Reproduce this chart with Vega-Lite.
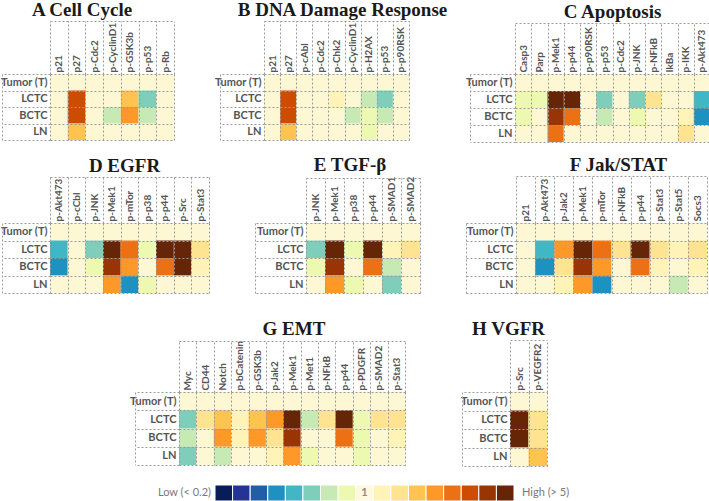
{
  "$schema": "https://vega.github.io/schema/vega-lite/v6.json",
  "padding": 0,
  "background": "white",
  "datasets": {
    "A": [
      {"sample":"Tumor (T)","protein":"p21","fold":1},{"sample":"Tumor (T)","protein":"p27","fold":1},{"sample":"Tumor (T)","protein":"p-Cdc2","fold":1},{"sample":"Tumor (T)","protein":"p-CyclinD1","fold":1},{"sample":"Tumor (T)","protein":"p-GSK3b","fold":1},{"sample":"Tumor (T)","protein":"p-p53","fold":1},{"sample":"Tumor (T)","protein":"p-Rb","fold":1},
      {"sample":"LCTC","protein":"p21","fold":1},{"sample":"LCTC","protein":"p27","fold":3.1},{"sample":"LCTC","protein":"p-Cdc2","fold":1},{"sample":"LCTC","protein":"p-CyclinD1","fold":1},{"sample":"LCTC","protein":"p-GSK3b","fold":1.75},{"sample":"LCTC","protein":"p-p53","fold":0.57},{"sample":"LCTC","protein":"p-Rb","fold":1},
      {"sample":"BCTC","protein":"p21","fold":1},{"sample":"BCTC","protein":"p27","fold":3.1},{"sample":"BCTC","protein":"p-Cdc2","fold":1},{"sample":"BCTC","protein":"p-CyclinD1","fold":0.69},{"sample":"BCTC","protein":"p-GSK3b","fold":2.1},{"sample":"BCTC","protein":"p-p53","fold":0.69},{"sample":"BCTC","protein":"p-Rb","fold":1},
      {"sample":"LN","protein":"p21","fold":1},{"sample":"LN","protein":"p27","fold":1.75},{"sample":"LN","protein":"p-Cdc2","fold":1},{"sample":"LN","protein":"p-CyclinD1","fold":1},{"sample":"LN","protein":"p-GSK3b","fold":1},{"sample":"LN","protein":"p-p53","fold":1},{"sample":"LN","protein":"p-Rb","fold":1}
    ],
    "B": [
      {"sample":"Tumor (T)","protein":"p21","fold":1},{"sample":"Tumor (T)","protein":"p27","fold":1},{"sample":"Tumor (T)","protein":"p-cAbl","fold":1},{"sample":"Tumor (T)","protein":"p-Cdc2","fold":1},{"sample":"Tumor (T)","protein":"p-Chk2","fold":1},{"sample":"Tumor (T)","protein":"p-CyclinD1","fold":1},{"sample":"Tumor (T)","protein":"p-H2AX","fold":1},{"sample":"Tumor (T)","protein":"p-p53","fold":1},{"sample":"Tumor (T)","protein":"p-p90RSK","fold":1},
      {"sample":"LCTC","protein":"p21","fold":1},{"sample":"LCTC","protein":"p27","fold":3.1},{"sample":"LCTC","protein":"p-cAbl","fold":1},{"sample":"LCTC","protein":"p-Cdc2","fold":1},{"sample":"LCTC","protein":"p-Chk2","fold":1.2},{"sample":"LCTC","protein":"p-CyclinD1","fold":1},{"sample":"LCTC","protein":"p-H2AX","fold":0.69},{"sample":"LCTC","protein":"p-p53","fold":0.57},{"sample":"LCTC","protein":"p-p90RSK","fold":1},
      {"sample":"BCTC","protein":"p21","fold":1},{"sample":"BCTC","protein":"p27","fold":3.1},{"sample":"BCTC","protein":"p-cAbl","fold":1},{"sample":"BCTC","protein":"p-Cdc2","fold":1},{"sample":"BCTC","protein":"p-Chk2","fold":1},{"sample":"BCTC","protein":"p-CyclinD1","fold":0.69},{"sample":"BCTC","protein":"p-H2AX","fold":0.83},{"sample":"BCTC","protein":"p-p53","fold":0.69},{"sample":"BCTC","protein":"p-p90RSK","fold":1},
      {"sample":"LN","protein":"p21","fold":1},{"sample":"LN","protein":"p27","fold":1.75},{"sample":"LN","protein":"p-cAbl","fold":1},{"sample":"LN","protein":"p-Cdc2","fold":1},{"sample":"LN","protein":"p-Chk2","fold":1},{"sample":"LN","protein":"p-CyclinD1","fold":1},{"sample":"LN","protein":"p-H2AX","fold":0.83},{"sample":"LN","protein":"p-p53","fold":1},{"sample":"LN","protein":"p-p90RSK","fold":1}
    ],
    "C": [
      {"sample":"Tumor (T)","protein":"Casp3","fold":1},{"sample":"Tumor (T)","protein":"Parp","fold":1},{"sample":"Tumor (T)","protein":"p-Mek1","fold":1},{"sample":"Tumor (T)","protein":"p-p44","fold":1},{"sample":"Tumor (T)","protein":"p-p90RSK","fold":1},{"sample":"Tumor (T)","protein":"p-p53","fold":1},{"sample":"Tumor (T)","protein":"p-Cdc2","fold":1},{"sample":"Tumor (T)","protein":"p-JNK","fold":1},{"sample":"Tumor (T)","protein":"p-NFkB","fold":1},{"sample":"Tumor (T)","protein":"IkBa","fold":1},{"sample":"Tumor (T)","protein":"p-IKK","fold":1},{"sample":"Tumor (T)","protein":"p-Akt473","fold":1},
      {"sample":"LCTC","protein":"Casp3","fold":0.83},{"sample":"LCTC","protein":"Parp","fold":0.83},{"sample":"LCTC","protein":"p-Mek1","fold":6},{"sample":"LCTC","protein":"p-p44","fold":6},{"sample":"LCTC","protein":"p-p90RSK","fold":1},{"sample":"LCTC","protein":"p-p53","fold":0.57},{"sample":"LCTC","protein":"p-Cdc2","fold":1},{"sample":"LCTC","protein":"p-JNK","fold":0.57},{"sample":"LCTC","protein":"p-NFkB","fold":1.45},{"sample":"LCTC","protein":"IkBa","fold":1},{"sample":"LCTC","protein":"p-IKK","fold":1},{"sample":"LCTC","protein":"p-Akt473","fold":0.47},
      {"sample":"BCTC","protein":"Casp3","fold":0.83},{"sample":"BCTC","protein":"Parp","fold":1},{"sample":"BCTC","protein":"p-Mek1","fold":3.8},{"sample":"BCTC","protein":"p-p44","fold":2.6},{"sample":"BCTC","protein":"p-p90RSK","fold":1},{"sample":"BCTC","protein":"p-p53","fold":0.69},{"sample":"BCTC","protein":"p-Cdc2","fold":1},{"sample":"BCTC","protein":"p-JNK","fold":0.83},{"sample":"BCTC","protein":"p-NFkB","fold":1},{"sample":"BCTC","protein":"IkBa","fold":1},{"sample":"BCTC","protein":"p-IKK","fold":1.2},{"sample":"BCTC","protein":"p-Akt473","fold":0.39},
      {"sample":"LN","protein":"Casp3","fold":1},{"sample":"LN","protein":"Parp","fold":1},{"sample":"LN","protein":"p-Mek1","fold":2.6},{"sample":"LN","protein":"p-p44","fold":1},{"sample":"LN","protein":"p-p90RSK","fold":1},{"sample":"LN","protein":"p-p53","fold":1},{"sample":"LN","protein":"p-Cdc2","fold":1},{"sample":"LN","protein":"p-JNK","fold":1},{"sample":"LN","protein":"p-NFkB","fold":1},{"sample":"LN","protein":"IkBa","fold":1},{"sample":"LN","protein":"p-IKK","fold":1.45},{"sample":"LN","protein":"p-Akt473","fold":1}
    ],
    "D": [
      {"sample":"Tumor (T)","protein":"p-Akt473","fold":1},{"sample":"Tumor (T)","protein":"p-cCbl","fold":1},{"sample":"Tumor (T)","protein":"p-JNK","fold":1},{"sample":"Tumor (T)","protein":"p-Mek1","fold":1},{"sample":"Tumor (T)","protein":"p-mTor","fold":1},{"sample":"Tumor (T)","protein":"p-p38","fold":1},{"sample":"Tumor (T)","protein":"p-p44","fold":1},{"sample":"Tumor (T)","protein":"p-Src","fold":1},{"sample":"Tumor (T)","protein":"p-Stat3","fold":1},
      {"sample":"LCTC","protein":"p-Akt473","fold":0.47},{"sample":"LCTC","protein":"p-cCbl","fold":1},{"sample":"LCTC","protein":"p-JNK","fold":0.57},{"sample":"LCTC","protein":"p-Mek1","fold":6},{"sample":"LCTC","protein":"p-mTor","fold":2.6},{"sample":"LCTC","protein":"p-p38","fold":0.83},{"sample":"LCTC","protein":"p-p44","fold":6},{"sample":"LCTC","protein":"p-Src","fold":6},{"sample":"LCTC","protein":"p-Stat3","fold":1.45},
      {"sample":"BCTC","protein":"p-Akt473","fold":0.39},{"sample":"BCTC","protein":"p-cCbl","fold":1},{"sample":"BCTC","protein":"p-JNK","fold":0.83},{"sample":"BCTC","protein":"p-Mek1","fold":3.8},{"sample":"BCTC","protein":"p-mTor","fold":2.1},{"sample":"BCTC","protein":"p-p38","fold":1},{"sample":"BCTC","protein":"p-p44","fold":2.6},{"sample":"BCTC","protein":"p-Src","fold":6},{"sample":"BCTC","protein":"p-Stat3","fold":1.2},
      {"sample":"LN","protein":"p-Akt473","fold":1},{"sample":"LN","protein":"p-cCbl","fold":1},{"sample":"LN","protein":"p-JNK","fold":1},{"sample":"LN","protein":"p-Mek1","fold":2.1},{"sample":"LN","protein":"p-mTor","fold":0.39},{"sample":"LN","protein":"p-p38","fold":0.83},{"sample":"LN","protein":"p-p44","fold":1},{"sample":"LN","protein":"p-Src","fold":1},{"sample":"LN","protein":"p-Stat3","fold":1}
    ],
    "E": [
      {"sample":"Tumor (T)","protein":"p-JNK","fold":1},{"sample":"Tumor (T)","protein":"p-Mek1","fold":1},{"sample":"Tumor (T)","protein":"p-p38","fold":1},{"sample":"Tumor (T)","protein":"p-p44","fold":1},{"sample":"Tumor (T)","protein":"p-SMAD1","fold":1},{"sample":"Tumor (T)","protein":"p-SMAD2","fold":1},
      {"sample":"LCTC","protein":"p-JNK","fold":0.57},{"sample":"LCTC","protein":"p-Mek1","fold":6},{"sample":"LCTC","protein":"p-p38","fold":0.83},{"sample":"LCTC","protein":"p-p44","fold":6},{"sample":"LCTC","protein":"p-SMAD1","fold":1.2},{"sample":"LCTC","protein":"p-SMAD2","fold":1.45},
      {"sample":"BCTC","protein":"p-JNK","fold":0.83},{"sample":"BCTC","protein":"p-Mek1","fold":3.8},{"sample":"BCTC","protein":"p-p38","fold":1},{"sample":"BCTC","protein":"p-p44","fold":2.6},{"sample":"BCTC","protein":"p-SMAD1","fold":0.69},{"sample":"BCTC","protein":"p-SMAD2","fold":1},
      {"sample":"LN","protein":"p-JNK","fold":1},{"sample":"LN","protein":"p-Mek1","fold":2.1},{"sample":"LN","protein":"p-p38","fold":0.83},{"sample":"LN","protein":"p-p44","fold":1},{"sample":"LN","protein":"p-SMAD1","fold":0.57},{"sample":"LN","protein":"p-SMAD2","fold":1}
    ],
    "F": [
      {"sample":"Tumor (T)","protein":"p21","fold":1},{"sample":"Tumor (T)","protein":"p-Akt473","fold":1},{"sample":"Tumor (T)","protein":"p-Jak2","fold":1},{"sample":"Tumor (T)","protein":"p-Mek1","fold":1},{"sample":"Tumor (T)","protein":"p-mTor","fold":1},{"sample":"Tumor (T)","protein":"p-NFkB","fold":1},{"sample":"Tumor (T)","protein":"p-p44","fold":1},{"sample":"Tumor (T)","protein":"p-Stat3","fold":1},{"sample":"Tumor (T)","protein":"p-Stat5","fold":1},{"sample":"Tumor (T)","protein":"Socs3","fold":1},
      {"sample":"LCTC","protein":"p21","fold":1},{"sample":"LCTC","protein":"p-Akt473","fold":0.47},{"sample":"LCTC","protein":"p-Jak2","fold":2.1},{"sample":"LCTC","protein":"p-Mek1","fold":6},{"sample":"LCTC","protein":"p-mTor","fold":2.6},{"sample":"LCTC","protein":"p-NFkB","fold":1.45},{"sample":"LCTC","protein":"p-p44","fold":6},{"sample":"LCTC","protein":"p-Stat3","fold":1.45},{"sample":"LCTC","protein":"p-Stat5","fold":1.2},{"sample":"LCTC","protein":"Socs3","fold":1.45},
      {"sample":"BCTC","protein":"p21","fold":1},{"sample":"BCTC","protein":"p-Akt473","fold":0.39},{"sample":"BCTC","protein":"p-Jak2","fold":1.45},{"sample":"BCTC","protein":"p-Mek1","fold":3.8},{"sample":"BCTC","protein":"p-mTor","fold":2.1},{"sample":"BCTC","protein":"p-NFkB","fold":1},{"sample":"BCTC","protein":"p-p44","fold":2.6},{"sample":"BCTC","protein":"p-Stat3","fold":1.2},{"sample":"BCTC","protein":"p-Stat5","fold":1},{"sample":"BCTC","protein":"Socs3","fold":1.2},
      {"sample":"LN","protein":"p21","fold":1},{"sample":"LN","protein":"p-Akt473","fold":1},{"sample":"LN","protein":"p-Jak2","fold":1.2},{"sample":"LN","protein":"p-Mek1","fold":2.1},{"sample":"LN","protein":"p-mTor","fold":0.39},{"sample":"LN","protein":"p-NFkB","fold":1},{"sample":"LN","protein":"p-p44","fold":1},{"sample":"LN","protein":"p-Stat3","fold":1},{"sample":"LN","protein":"p-Stat5","fold":0.69},{"sample":"LN","protein":"Socs3","fold":1}
    ],
    "G": [
      {"sample":"Tumor (T)","protein":"Myc","fold":1},{"sample":"Tumor (T)","protein":"CD44","fold":1},{"sample":"Tumor (T)","protein":"Notch","fold":1},{"sample":"Tumor (T)","protein":"p-bCatenin","fold":1},{"sample":"Tumor (T)","protein":"p-GSK3b","fold":1},{"sample":"Tumor (T)","protein":"p-Jak2","fold":1},{"sample":"Tumor (T)","protein":"p-Mek1","fold":1},{"sample":"Tumor (T)","protein":"p-Met1","fold":1},{"sample":"Tumor (T)","protein":"p-NFkB","fold":1},{"sample":"Tumor (T)","protein":"p-p44","fold":1},{"sample":"Tumor (T)","protein":"p-PDGFR","fold":1},{"sample":"Tumor (T)","protein":"p-SMAD2","fold":1},{"sample":"Tumor (T)","protein":"p-Stat3","fold":1},
      {"sample":"LCTC","protein":"Myc","fold":0.57},{"sample":"LCTC","protein":"CD44","fold":1.45},{"sample":"LCTC","protein":"Notch","fold":1.75},{"sample":"LCTC","protein":"p-bCatenin","fold":1.2},{"sample":"LCTC","protein":"p-GSK3b","fold":1.75},{"sample":"LCTC","protein":"p-Jak2","fold":2.1},{"sample":"LCTC","protein":"p-Mek1","fold":6},{"sample":"LCTC","protein":"p-Met1","fold":0.69},{"sample":"LCTC","protein":"p-NFkB","fold":1.45},{"sample":"LCTC","protein":"p-p44","fold":6},{"sample":"LCTC","protein":"p-PDGFR","fold":0.83},{"sample":"LCTC","protein":"p-SMAD2","fold":1.45},{"sample":"LCTC","protein":"p-Stat3","fold":1.45},
      {"sample":"BCTC","protein":"Myc","fold":0.69},{"sample":"BCTC","protein":"CD44","fold":1},{"sample":"BCTC","protein":"Notch","fold":2.1},{"sample":"BCTC","protein":"p-bCatenin","fold":1.2},{"sample":"BCTC","protein":"p-GSK3b","fold":2.1},{"sample":"BCTC","protein":"p-Jak2","fold":1.45},{"sample":"BCTC","protein":"p-Mek1","fold":3.8},{"sample":"BCTC","protein":"p-Met1","fold":1},{"sample":"BCTC","protein":"p-NFkB","fold":1},{"sample":"BCTC","protein":"p-p44","fold":2.6},{"sample":"BCTC","protein":"p-PDGFR","fold":0.83},{"sample":"BCTC","protein":"p-SMAD2","fold":1},{"sample":"BCTC","protein":"p-Stat3","fold":1.2},
      {"sample":"LN","protein":"Myc","fold":0.57},{"sample":"LN","protein":"CD44","fold":1},{"sample":"LN","protein":"Notch","fold":0.69},{"sample":"LN","protein":"p-bCatenin","fold":1},{"sample":"LN","protein":"p-GSK3b","fold":1},{"sample":"LN","protein":"p-Jak2","fold":1.2},{"sample":"LN","protein":"p-Mek1","fold":2.1},{"sample":"LN","protein":"p-Met1","fold":0.83},{"sample":"LN","protein":"p-NFkB","fold":1},{"sample":"LN","protein":"p-p44","fold":1},{"sample":"LN","protein":"p-PDGFR","fold":0.83},{"sample":"LN","protein":"p-SMAD2","fold":1},{"sample":"LN","protein":"p-Stat3","fold":1}
    ],
    "H": [
      {"sample":"Tumor (T)","protein":"p-Src","fold":1},{"sample":"Tumor (T)","protein":"p-VEGFR2","fold":1},
      {"sample":"LCTC","protein":"p-Src","fold":6},{"sample":"LCTC","protein":"p-VEGFR2","fold":1.45},
      {"sample":"BCTC","protein":"p-Src","fold":6},{"sample":"BCTC","protein":"p-VEGFR2","fold":1.45},
      {"sample":"LN","protein":"p-Src","fold":1},{"sample":"LN","protein":"p-VEGFR2","fold":1.75}
    ],
    "L": [
      {"bin":"k01","fold":0.15,"mid":"","low":"Low (< 0.2)","high":""},
      {"bin":"k02","fold":0.26,"mid":"","low":"","high":""},
      {"bin":"k03","fold":0.32,"mid":"","low":"","high":""},
      {"bin":"k04","fold":0.39,"mid":"","low":"","high":""},
      {"bin":"k05","fold":0.47,"mid":"","low":"","high":""},
      {"bin":"k06","fold":0.57,"mid":"","low":"","high":""},
      {"bin":"k07","fold":0.69,"mid":"","low":"","high":""},
      {"bin":"k08","fold":0.83,"mid":"","low":"","high":""},
      {"bin":"k09","fold":1,"mid":"1","low":"","high":""},
      {"bin":"k10","fold":1.2,"mid":"","low":"","high":""},
      {"bin":"k11","fold":1.45,"mid":"","low":"","high":""},
      {"bin":"k12","fold":1.75,"mid":"","low":"","high":""},
      {"bin":"k13","fold":2.1,"mid":"","low":"","high":""},
      {"bin":"k14","fold":2.6,"mid":"","low":"","high":""},
      {"bin":"k15","fold":3.1,"mid":"","low":"","high":""},
      {"bin":"k16","fold":3.8,"mid":"","low":"","high":""},
      {"bin":"k17","fold":6,"mid":"","low":"","high":"High (> 5)"}
    ]
  },
  "config": {
    "view": {"stroke": null},
    "title": {"font": "Liberation Serif", "fontSize": 19, "fontWeight": "bold", "color": "#1a1a1a", "offset": 1, "anchor": "middle", "frame": "group"},
    "axis": {
      "minExtent": 0,
      "tickBand": "extent",
      "tickColor": "#9a9a9a", "tickDash": [2, 2], "tickWidth": 1,
      "gridColor": "#9a9a9a", "gridDash": [2, 2], "gridOpacity": 1, "gridWidth": 1,
      "domainColor": "#9a9a9a", "domainDash": [2, 2], "domainWidth": 1,
      "labelFont": "Lato",
      "labelFontSize": 10, "labelFontWeight": "bold", "labelColor": "#555555",
      "labelOverlap": false, "labelBound": false, "labelFlush": false
    },
    "axisLeft": {"labelFontSize": 11}
  },
  "vconcat": [
    {
      "bounds": "flush", "spacing": 0,
      "hconcat": [
        {
          "width": 124, "height": 66, "data": {"name": "A"},
          "title": {"text": "A  Cell Cycle", "dx": -30},
          "resolve": {"axis": {"x": "independent", "y": "independent"}},
          "layer": [
            {"mark": {"type": "rect"},
             "encoding": {
               "x": {"field": "protein", "type": "nominal", "sort": null, "axis": {"orient": "top", "title": null, "tickSize": 53, "labelPadding": -51, "labelAngle": 270, "labelAlign": "left", "labelBaseline": "middle", "grid": true, "domain": false}},
               "y": {"field": "sample", "type": "nominal", "sort": null, "axis": {"orient": "left", "title": null, "tickSize": 48, "labelPadding": -45, "grid": true, "domain": false}},
               "color": {"field": "fold", "type": "quantitative", "legend": null, "scale": {"type": "threshold", "domain": [0.24,0.29,0.35,0.43,0.52,0.62,0.75,0.91,1.1,1.33,1.6,1.94,2.34,2.83,3.42,4.14], "range": ["#081d58","#253494","#225ea8","#1d91c0","#41b6c4","#7fcdbb","#c7e9b4","#edf8b1","#fcf2b6","#fff3b8","#fee391","#fec44f","#fe9929","#ec7014","#cc4c02","#993404","#662506"]}},
               "fillOpacity": {"condition": {"test": "datum.fold > 0.91 && datum.fold < 1.1", "value": 0.6}, "value": 1}
             }},
            {"mark": {"type": "rect", "opacity": 0},
             "encoding": {
               "x": {"field": "protein", "type": "nominal", "sort": null, "axis": {"orient": "top", "title": null, "offset": 53, "labels": false, "ticks": false, "grid": false, "domain": true}},
               "y": {"field": "sample", "type": "nominal", "sort": null, "axis": {"orient": "left", "title": null, "offset": 48, "labels": false, "ticks": false, "grid": false, "domain": true}}
             }}
          ]
        },
        {"width": 90, "height": 1, "data": {"values": []}, "mark": {"type": "point", "opacity": 0}},
        {
          "width": 145, "height": 66, "data": {"name": "B"},
          "title": {"text": "B  DNA Damage Response", "dx": 6},
          "resolve": {"axis": {"x": "independent", "y": "independent"}},
          "layer": [
            {"mark": {"type": "rect"},
             "encoding": {
               "x": {"field": "protein", "type": "nominal", "sort": null, "axis": {"orient": "top", "title": null, "tickSize": 53, "labelPadding": -51, "labelAngle": 270, "labelAlign": "left", "labelBaseline": "middle", "grid": true, "domain": false}},
               "y": {"field": "sample", "type": "nominal", "sort": null, "axis": {"orient": "left", "title": null, "tickSize": 44, "labelPadding": -41, "grid": true, "domain": false}},
               "color": {"field": "fold", "type": "quantitative", "legend": null, "scale": {"type": "threshold", "domain": [0.24,0.29,0.35,0.43,0.52,0.62,0.75,0.91,1.1,1.33,1.6,1.94,2.34,2.83,3.42,4.14], "range": ["#081d58","#253494","#225ea8","#1d91c0","#41b6c4","#7fcdbb","#c7e9b4","#edf8b1","#fcf2b6","#fff3b8","#fee391","#fec44f","#fe9929","#ec7014","#cc4c02","#993404","#662506"]}},
               "fillOpacity": {"condition": {"test": "datum.fold > 0.91 && datum.fold < 1.1", "value": 0.6}, "value": 1}
             }},
            {"mark": {"type": "rect", "opacity": 0},
             "encoding": {
               "x": {"field": "protein", "type": "nominal", "sort": null, "axis": {"orient": "top", "title": null, "offset": 53, "labels": false, "ticks": false, "grid": false, "domain": true}},
               "y": {"field": "sample", "type": "nominal", "sort": null, "axis": {"orient": "left", "title": null, "offset": 44, "labels": false, "ticks": false, "grid": false, "domain": true}}
             }}
          ]
        },
        {"width": 106, "height": 1, "data": {"values": []}, "mark": {"type": "point", "opacity": 0}},
        {
          "width": 195, "height": 68, "data": {"name": "C"},
          "title": {"text": "C  Apoptosis", "dx": 0},
          "resolve": {"axis": {"x": "independent", "y": "independent"}},
          "layer": [
            {"mark": {"type": "rect"},
             "encoding": {
               "x": {"field": "protein", "type": "nominal", "sort": null, "axis": {"orient": "top", "title": null, "tickSize": 51, "labelPadding": -49, "labelAngle": 270, "labelAlign": "left", "labelBaseline": "middle", "grid": true, "domain": false}},
               "y": {"field": "sample", "type": "nominal", "sort": null, "axis": {"orient": "left", "title": null, "tickSize": 45, "labelPadding": -42, "grid": true, "domain": false}},
               "color": {"field": "fold", "type": "quantitative", "legend": null, "scale": {"type": "threshold", "domain": [0.24,0.29,0.35,0.43,0.52,0.62,0.75,0.91,1.1,1.33,1.6,1.94,2.34,2.83,3.42,4.14], "range": ["#081d58","#253494","#225ea8","#1d91c0","#41b6c4","#7fcdbb","#c7e9b4","#edf8b1","#fcf2b6","#fff3b8","#fee391","#fec44f","#fe9929","#ec7014","#cc4c02","#993404","#662506"]}},
               "fillOpacity": {"condition": {"test": "datum.fold > 0.91 && datum.fold < 1.1", "value": 0.6}, "value": 1}
             }},
            {"mark": {"type": "rect", "opacity": 0},
             "encoding": {
               "x": {"field": "protein", "type": "nominal", "sort": null, "axis": {"orient": "top", "title": null, "offset": 51, "labels": false, "ticks": false, "grid": false, "domain": true}},
               "y": {"field": "sample", "type": "nominal", "sort": null, "axis": {"orient": "left", "title": null, "offset": 45, "labels": false, "ticks": false, "grid": false, "domain": true}}
             }}
          ]
        }
      ]
    },
    {"width": 10, "height": 149, "data": {"values": []}, "mark": {"type": "point", "opacity": 0}},
    {
      "bounds": "flush", "spacing": 0,
      "hconcat": [
        {
          "width": 159, "height": 70, "data": {"name": "D"},
          "title": {"text": "D  EGFR", "dx": -5},
          "resolve": {"axis": {"x": "independent", "y": "independent"}},
          "layer": [
            {"mark": {"type": "rect"},
             "encoding": {
               "x": {"field": "protein", "type": "nominal", "sort": null, "axis": {"orient": "top", "title": null, "tickSize": 46, "labelPadding": -44, "labelAngle": 270, "labelAlign": "left", "labelBaseline": "middle", "grid": true, "domain": false}},
               "y": {"field": "sample", "type": "nominal", "sort": null, "axis": {"orient": "left", "title": null, "tickSize": 48, "labelPadding": -45, "grid": true, "domain": false}},
               "color": {"field": "fold", "type": "quantitative", "legend": null, "scale": {"type": "threshold", "domain": [0.24,0.29,0.35,0.43,0.52,0.62,0.75,0.91,1.1,1.33,1.6,1.94,2.34,2.83,3.42,4.14], "range": ["#081d58","#253494","#225ea8","#1d91c0","#41b6c4","#7fcdbb","#c7e9b4","#edf8b1","#fcf2b6","#fff3b8","#fee391","#fec44f","#fe9929","#ec7014","#cc4c02","#993404","#662506"]}},
               "fillOpacity": {"condition": {"test": "datum.fold > 0.91 && datum.fold < 1.1", "value": 0.6}, "value": 1}
             }},
            {"mark": {"type": "rect", "opacity": 0},
             "encoding": {
               "x": {"field": "protein", "type": "nominal", "sort": null, "axis": {"orient": "top", "title": null, "offset": 46, "labels": false, "ticks": false, "grid": false, "domain": true}},
               "y": {"field": "sample", "type": "nominal", "sort": null, "axis": {"orient": "left", "title": null, "offset": 48, "labels": false, "ticks": false, "grid": false, "domain": true}}
             }}
          ]
        },
        {"width": 97, "height": 1, "data": {"values": []}, "mark": {"type": "point", "opacity": 0}},
        {
          "width": 114, "height": 70, "data": {"name": "E"},
          "title": {"text": "E  TGF-β", "dx": -13},
          "resolve": {"axis": {"x": "independent", "y": "independent"}},
          "layer": [
            {"mark": {"type": "rect"},
             "encoding": {
               "x": {"field": "protein", "type": "nominal", "sort": null, "axis": {"orient": "top", "title": null, "tickSize": 45, "labelPadding": -43, "labelAngle": 270, "labelAlign": "left", "labelBaseline": "middle", "grid": true, "domain": false}},
               "y": {"field": "sample", "type": "nominal", "sort": null, "axis": {"orient": "left", "title": null, "tickSize": 51, "labelPadding": -48, "grid": true, "domain": false}},
               "color": {"field": "fold", "type": "quantitative", "legend": null, "scale": {"type": "threshold", "domain": [0.24,0.29,0.35,0.43,0.52,0.62,0.75,0.91,1.1,1.33,1.6,1.94,2.34,2.83,3.42,4.14], "range": ["#081d58","#253494","#225ea8","#1d91c0","#41b6c4","#7fcdbb","#c7e9b4","#edf8b1","#fcf2b6","#fff3b8","#fee391","#fec44f","#fe9929","#ec7014","#cc4c02","#993404","#662506"]}},
               "fillOpacity": {"condition": {"test": "datum.fold > 0.91 && datum.fold < 1.1", "value": 0.6}, "value": 1}
             }},
            {"mark": {"type": "rect", "opacity": 0},
             "encoding": {
               "x": {"field": "protein", "type": "nominal", "sort": null, "axis": {"orient": "top", "title": null, "offset": 45, "labels": false, "ticks": false, "grid": false, "domain": true}},
               "y": {"field": "sample", "type": "nominal", "sort": null, "axis": {"orient": "left", "title": null, "offset": 51, "labels": false, "ticks": false, "grid": false, "domain": true}}
             }}
          ]
        },
        {"width": 96, "height": 1, "data": {"values": []}, "mark": {"type": "point", "opacity": 0}},
        {
          "width": 191, "height": 70, "data": {"name": "F"},
          "title": {"text": "F  Jak/STAT", "dx": 7},
          "resolve": {"axis": {"x": "independent", "y": "independent"}},
          "layer": [
            {"mark": {"type": "rect"},
             "encoding": {
               "x": {"field": "protein", "type": "nominal", "sort": null, "axis": {"orient": "top", "title": null, "tickSize": 47, "labelPadding": -45, "labelAngle": 270, "labelAlign": "left", "labelBaseline": "middle", "grid": true, "domain": false}},
               "y": {"field": "sample", "type": "nominal", "sort": null, "axis": {"orient": "left", "title": null, "tickSize": 50, "labelPadding": -47, "grid": true, "domain": false}},
               "color": {"field": "fold", "type": "quantitative", "legend": null, "scale": {"type": "threshold", "domain": [0.24,0.29,0.35,0.43,0.52,0.62,0.75,0.91,1.1,1.33,1.6,1.94,2.34,2.83,3.42,4.14], "range": ["#081d58","#253494","#225ea8","#1d91c0","#41b6c4","#7fcdbb","#c7e9b4","#edf8b1","#fcf2b6","#fff3b8","#fee391","#fec44f","#fe9929","#ec7014","#cc4c02","#993404","#662506"]}},
               "fillOpacity": {"condition": {"test": "datum.fold > 0.91 && datum.fold < 1.1", "value": 0.6}, "value": 1}
             }},
            {"mark": {"type": "rect", "opacity": 0},
             "encoding": {
               "x": {"field": "protein", "type": "nominal", "sort": null, "axis": {"orient": "top", "title": null, "offset": 47, "labels": false, "ticks": false, "grid": false, "domain": true}},
               "y": {"field": "sample", "type": "nominal", "sort": null, "axis": {"orient": "left", "title": null, "offset": 50, "labels": false, "ticks": false, "grid": false, "domain": true}}
             }}
          ]
        }
      ]
    },
    {"width": 10, "height": 169, "data": {"values": []}, "mark": {"type": "point", "opacity": 0}},
    {
      "bounds": "flush", "spacing": 0,
      "hconcat": [
        {"width": 129, "height": 1, "data": {"values": []}, "mark": {"type": "point", "opacity": 0}},
        {
          "width": 226, "height": 73, "data": {"name": "G"},
          "title": {"text": "G  EMT", "dx": 2},
          "resolve": {"axis": {"x": "independent", "y": "independent"}},
          "layer": [
            {"mark": {"type": "rect"},
             "encoding": {
               "x": {"field": "protein", "type": "nominal", "sort": null, "axis": {"orient": "top", "title": null, "tickSize": 51, "labelPadding": -49, "labelAngle": 270, "labelAlign": "left", "labelBaseline": "middle", "grid": true, "domain": false}},
               "y": {"field": "sample", "type": "nominal", "sort": null, "axis": {"orient": "left", "title": null, "tickSize": 44, "labelPadding": -41, "grid": true, "domain": false}},
               "color": {"field": "fold", "type": "quantitative", "legend": null, "scale": {"type": "threshold", "domain": [0.24,0.29,0.35,0.43,0.52,0.62,0.75,0.91,1.1,1.33,1.6,1.94,2.34,2.83,3.42,4.14], "range": ["#081d58","#253494","#225ea8","#1d91c0","#41b6c4","#7fcdbb","#c7e9b4","#edf8b1","#fcf2b6","#fff3b8","#fee391","#fec44f","#fe9929","#ec7014","#cc4c02","#993404","#662506"]}},
               "fillOpacity": {"condition": {"test": "datum.fold > 0.91 && datum.fold < 1.1", "value": 0.6}, "value": 1}
             }},
            {"mark": {"type": "rect", "opacity": 0},
             "encoding": {
               "x": {"field": "protein", "type": "nominal", "sort": null, "axis": {"orient": "top", "title": null, "offset": 51, "labels": false, "ticks": false, "grid": false, "domain": true}},
               "y": {"field": "sample", "type": "nominal", "sort": null, "axis": {"orient": "left", "title": null, "offset": 44, "labels": false, "ticks": false, "grid": false, "domain": true}}
             }}
          ]
        },
        {"width": 105, "height": 1, "data": {"values": []}, "mark": {"type": "point", "opacity": 0}},
        {
          "width": 37, "height": 74, "data": {"name": "H"},
          "title": {"text": "H  VGFR", "dx": -20},
          "resolve": {"axis": {"x": "independent", "y": "independent"}},
          "layer": [
            {"mark": {"type": "rect"},
             "encoding": {
               "x": {"field": "protein", "type": "nominal", "sort": null, "axis": {"orient": "top", "title": null, "tickSize": 52, "labelPadding": -50, "labelAngle": 270, "labelAlign": "left", "labelBaseline": "middle", "grid": true, "domain": false}},
               "y": {"field": "sample", "type": "nominal", "sort": null, "axis": {"orient": "left", "title": null, "tickSize": 48, "labelPadding": -45, "grid": true, "domain": false}},
               "color": {"field": "fold", "type": "quantitative", "legend": null, "scale": {"type": "threshold", "domain": [0.24,0.29,0.35,0.43,0.52,0.62,0.75,0.91,1.1,1.33,1.6,1.94,2.34,2.83,3.42,4.14], "range": ["#081d58","#253494","#225ea8","#1d91c0","#41b6c4","#7fcdbb","#c7e9b4","#edf8b1","#fcf2b6","#fff3b8","#fee391","#fec44f","#fe9929","#ec7014","#cc4c02","#993404","#662506"]}},
               "fillOpacity": {"condition": {"test": "datum.fold > 0.91 && datum.fold < 1.1", "value": 0.6}, "value": 1}
             }},
            {"mark": {"type": "rect", "opacity": 0},
             "encoding": {
               "x": {"field": "protein", "type": "nominal", "sort": null, "axis": {"orient": "top", "title": null, "offset": 52, "labels": false, "ticks": false, "grid": false, "domain": true}},
               "y": {"field": "sample", "type": "nominal", "sort": null, "axis": {"orient": "left", "title": null, "offset": 48, "labels": false, "ticks": false, "grid": false, "domain": true}}
             }}
          ]
        }
      ]
    },
    {"width": 10, "height": 93, "data": {"values": []}, "mark": {"type": "point", "opacity": 0}},
    {
      "bounds": "flush", "spacing": 0,
      "hconcat": [
        {"width": 165, "height": 1, "data": {"values": []}, "mark": {"type": "point", "opacity": 0}},
        {
          "width": 299, "height": 16, "data": {"name": "L"},
          "layer": [
            {"mark": {"type": "rect", "stroke": "white", "strokeWidth": 1},
             "encoding": {
               "x": {"field": "bin", "type": "nominal", "sort": null, "axis": null},
               "color": {"field": "fold", "type": "quantitative", "legend": null, "scale": {"type": "threshold", "domain": [0.24,0.29,0.35,0.43,0.52,0.62,0.75,0.91,1.1,1.33,1.6,1.94,2.34,2.83,3.42,4.14], "range": ["#081d58","#253494","#225ea8","#1d91c0","#41b6c4","#7fcdbb","#c7e9b4","#edf8b1","#fcf2b6","#fff3b8","#fee391","#fec44f","#fe9929","#ec7014","#cc4c02","#993404","#662506"]}},
               "fillOpacity": {"condition": {"test": "datum.fold > 0.91 && datum.fold < 1.1", "value": 0.45}, "value": 1}
             }},
            {"mark": {"type": "text", "font": "Lato", "fontSize": 11, "fontWeight": "bold", "color": "#8a8a8a"},
             "encoding": {
               "x": {"field": "bin", "type": "nominal", "sort": null, "axis": null},
               "text": {"field": "mid"}
             }},
            {"mark": {"type": "text", "font": "Lato", "fontSize": 11, "color": "#7a7a7a", "align": "right", "dx": -4},
             "encoding": {
               "x": {"field": "bin", "type": "nominal", "sort": null, "bandPosition": 0, "axis": null},
               "text": {"field": "low"}
             }},
            {"mark": {"type": "text", "font": "Lato", "fontSize": 11, "color": "#7a7a7a", "align": "left", "dx": 8},
             "encoding": {
               "x": {"field": "bin", "type": "nominal", "sort": null, "bandPosition": 1, "axis": null},
               "text": {"field": "high"}
             }}
          ]
        }
      ]
    }
  ],
  "bounds": "flush",
  "spacing": 0
}
